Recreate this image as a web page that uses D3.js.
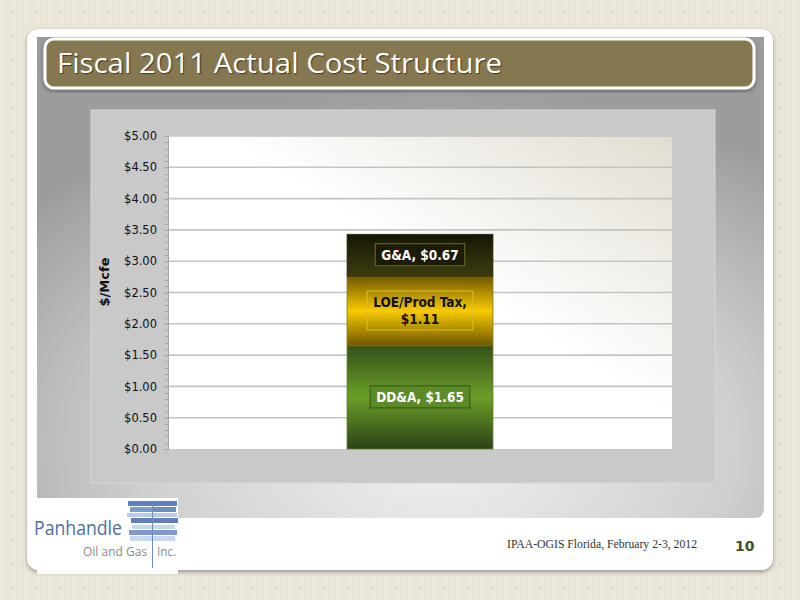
<!DOCTYPE html>
<html><head><meta charset="utf-8">
<script src="https://cdn.jsdelivr.net/npm/d3@7"></script>
<style>html,body{margin:0;padding:0;background:#e9e3d6;}svg{display:block;}</style>
</head><body>
<svg id="c" width="800" height="600"></svg>
<script>
// ---- data ----
const categories = ["Fiscal 2011"];
const seriesNames = ["DD&A", "LOE/Prod Tax", "G&A"];
const seriesValues = [1.65, 1.11, 0.67];
const labelText = ["DD&A, $1.65", "LOE/Prod Tax,|$1.11", "G&A, $0.67"];
const tickValues = [0, 0.5, 1, 1.5, 2, 2.5, 3, 3.5, 4, 4.5, 5];
const title = "Fiscal 2011 Actual Cost Structure";
const yTitle = "$/Mcfe";
const footer = "IPAA-OGIS Florida, February 2-3, 2012";
const pageNo = "10";

const svg = d3.select("#c");
const defs = svg.append("defs");

// background pattern
const pat = defs.append("pattern").attr("id","bg").attr("width",24).attr("height",24).attr("patternUnits","userSpaceOnUse");
pat.append("rect").attr("width",24).attr("height",24).attr("fill","#e9e3d6");
for (let i=0;i<24;i+=3) pat.append("rect").attr("x",i).attr("width",1).attr("height",24).attr("fill","#efeadf");
pat.append("circle").attr("cx",12).attr("cy",12).attr("r",1).attr("fill","#d9d1c0");
svg.append("rect").attr("width",800).attr("height",600).attr("fill","url(#bg)");

// shadow filter
const f = defs.append("filter").attr("id","sh").attr("x","-5%").attr("y","-5%").attr("width","110%").attr("height","115%");
f.append("feDropShadow").attr("dx",0).attr("dy",2).attr("stdDeviation",2).attr("flood-color","#000").attr("flood-opacity",0.35);

// white card
svg.append("rect").attr("x",27).attr("y",29).attr("width",746).attr("height",541).attr("rx",12)
  .attr("fill","#ffffff").attr("filter","url(#sh)");

// gray panel gradient
const rg = defs.append("radialGradient").attr("id","panel").attr("cx","0.55").attr("cy","0.85").attr("r","0.75");
rg.append("stop").attr("offset","0").attr("stop-color","#f2f2f2");
rg.append("stop").attr("offset","0.55").attr("stop-color","#cfcfcf");
rg.append("stop").attr("offset","1").attr("stop-color","#9c9c9c");
svg.append("path").attr("d","M37,37 H764 V508 Q764,518 754,518 H37 Z").attr("fill","url(#panel)");

// title bar
svg.append("rect").attr("x",45).attr("y",39).attr("width",709).attr("height",49).attr("rx",9)
  .attr("fill","#857750").attr("stroke","#ffffff").attr("stroke-width",3).attr("filter","url(#sh)");
svg.append("text").attr("x",57).attr("y",73).text(title)
  .attr("font-family","'Open Sans', sans-serif").attr("font-size",27).attr("fill","#ffffff")
  .attr("textLength",445).attr("lengthAdjust","spacingAndGlyphs")
  .style("text-shadow","1px 1px 1px rgba(0,0,0,0.5)");

// chart area
svg.append("rect").attr("x",91).attr("y",110).attr("width",624).attr("height",373)
  .attr("fill","#c9c9c9").attr("stroke","#d6d6d6").attr("stroke-width",1);

// plot
const m = {left:168, right:672, top:136, bottom:449};
const pg = defs.append("linearGradient").attr("id","plotbg").attr("x1","0").attr("y1","1").attr("x2","1").attr("y2","0");
pg.append("stop").attr("offset","0").attr("stop-color","#ffffff");
pg.append("stop").attr("offset","0.55").attr("stop-color","#ffffff");
pg.append("stop").attr("offset","1").attr("stop-color","#e2ddd2");
svg.append("rect").attr("x",m.left).attr("y",m.top).attr("width",m.right-m.left).attr("height",m.bottom-m.top).attr("fill","url(#plotbg)");

const x = d3.scaleBand().domain(categories).range([m.left,m.right]).paddingInner(0.551).paddingOuter(0.551);
const y = d3.scaleLinear().domain([0,5]).range([m.bottom,m.top]);

// gridlines
svg.append("g").selectAll("line").data(tickValues.filter(d=>d>0)).join("line")
  .attr("x1",m.left).attr("x2",m.right).attr("y1",d=>y(d)).attr("y2",d=>y(d))
  .attr("stroke","#c4c4c4").attr("stroke-width",1.6);

// minor ticks
const minor = d3.range(0,5.001,0.1);
svg.append("g").selectAll("line").data(minor).join("line")
  .attr("x1",m.left-3).attr("x2",m.left).attr("y1",d=>Math.round(y(d))+0.5).attr("y2",d=>Math.round(y(d))+0.5)
  .attr("stroke","#a8a8a8").attr("stroke-width",1);

// y axis
const yAxis = d3.axisLeft(y).tickValues(tickValues).tickFormat(d=>"$"+d3.format(".2f")(d)).tickSize(4).tickPadding(7);
const ga = svg.append("g").attr("transform",`translate(${m.left},0)`).call(yAxis);
ga.select(".domain").attr("stroke","#a8a8a8");
ga.selectAll(".tick line").attr("stroke","#a8a8a8");
ga.selectAll("text").attr("font-family","'DejaVu Sans', Verdana, sans-serif").attr("font-size",11.5).attr("fill","#111");

svg.append("text").attr("transform","translate(109,282) rotate(-90)").attr("text-anchor","middle")
  .attr("font-family","'DejaVu Sans', Verdana, sans-serif").attr("font-weight","bold").attr("font-size",13)
  .attr("fill","#111").text(yTitle);

// bar gradients
function vgrad(id, stops){
  const g = defs.append("linearGradient").attr("id",id).attr("x1",0).attr("y1",0).attr("x2",0).attr("y2",1);
  stops.forEach(s=>g.append("stop").attr("offset",s[0]).attr("stop-color",s[1]));
}
vgrad("g0",[[0,"#34501a"],[0.5,"#6b9e27"],[1,"#2a4218"]]);
vgrad("g1",[[0,"#6e5800"],[0.5,"#f8ca00"],[1,"#6e5800"]]);
vgrad("g2",[[0,"#151503"],[0.5,"#2a2a0a"],[1,"#3c3c10"]]);
const fills = ["url(#g0)","url(#g1)","url(#g2)"];
const edge = ["#5f7a1e","#8a7000","#2a2a0a"];

const stackData = [Object.fromEntries(seriesNames.map((s,i)=>[s,seriesValues[i]]))];
const stacked = d3.stack().keys(seriesNames)(stackData);
const bars = svg.append("g");
stacked.forEach((layer,i)=>{
  const d = layer[0];
  bars.append("rect").attr("x",x(categories[0])).attr("width",x.bandwidth())
    .attr("y",y(d[1])).attr("height",y(d[0])-y(d[1]))
    .attr("fill",fills[i]).attr("stroke",edge[i]).attr("stroke-width",0.8);
});

// labels
const boxFill = ["#5b8a26","rgba(0,0,0,0)","#1c1c06"];
const boxStroke = ["#2f5a12","#e0b830","#6b6a2a"];
const txtCol = ["#ffffff","#111111","#ffffff"];
stacked.forEach((layer,i)=>{
  const d = layer[0];
  const cx = x(categories[0]) + x.bandwidth()/2;
  const cy = (y(d[0])+y(d[1]))/2;
  const lines = labelText[i].split("|");
  const g = svg.append("g");
  const t = g.append("text").attr("text-anchor","middle")
    .attr("font-family","'DejaVu Sans Condensed','DejaVu Sans',sans-serif").attr("font-weight","bold").attr("font-size",13.5)
    .attr("fill",txtCol[i]);
  const lh = 17;
  lines.forEach((ln,j)=>{
    t.append("tspan").attr("x",cx).attr("y",cy + (j-(lines.length-1)/2)*lh + 4.5).text(ln);
  });
  const bb = t.node().getBBox();
  g.insert("rect","text").attr("x",bb.x-6).attr("y",bb.y-3).attr("width",bb.width+12).attr("height",bb.height+6)
    .attr("fill",boxFill[i]).attr("stroke",boxStroke[i]).attr("stroke-width",1);
});

// logo area
svg.append("rect").attr("x",37).attr("y",498).attr("width",141).attr("height",76).attr("fill","#ffffff");
const stripes = [
  [128,501,24,5,"#5f80b8"],[153,501,24,5,"#5f80b8"],
  [130,507,22,5,"#7e9bcb"],[153,507,23,5,"#6d8cc2"],
  [127,513,25,4,"#b9cbe8"],[153,513,24,4,"#b9cbe8"],
  [131,518,21,5,"#5f80b8"],[153,518,25,5,"#5f80b8"],
  [132,525,20,4,"#c9d7ee"],[153,525,22,4,"#c9d7ee"],
  [129,530,23,5,"#7e9bcb"],[153,530,24,5,"#7e9bcb"],
  [130,536,22,5,"#c9d7ee"],[153,536,22,5,"#c9d7ee"]
];
svg.append("g").selectAll("rect").data(stripes).join("rect")
  .attr("x",d=>d[0]).attr("y",d=>d[1]).attr("width",d=>d[2]).attr("height",d=>d[3]).attr("fill",d=>d[4]);
svg.append("line").attr("x1",152.5).attr("x2",152.5).attr("y1",501).attr("y2",568).attr("stroke","#6d8cc2").attr("stroke-width",1);
svg.append("text").attr("x",34).attr("y",535).text("Panhandle").attr("font-family","'Liberation Sans Narrow','Open Sans',sans-serif")
  .attr("font-size",20).attr("fill","#4f6f9f").attr("textLength",88).attr("lengthAdjust","spacingAndGlyphs");
svg.append("text").attr("x",83).attr("y",556).text("Oil and Gas").attr("font-family","'Liberation Sans Narrow','Open Sans',sans-serif")
  .attr("font-size",13).attr("fill","#8a8a8a").attr("textLength",64).attr("lengthAdjust","spacingAndGlyphs");
svg.append("text").attr("x",157).attr("y",556).text("Inc.").attr("font-family","'Liberation Sans Narrow','Open Sans',sans-serif")
  .attr("font-size",13).attr("fill","#8a8a8a").attr("textLength",19).attr("lengthAdjust","spacingAndGlyphs");

// footer
svg.append("text").attr("x",507).attr("y",548).text(footer).attr("font-family","'Liberation Serif','Times New Roman',serif")
  .attr("font-size",12).attr("fill","#333").attr("textLength",190).attr("lengthAdjust","spacingAndGlyphs");
svg.append("text").attr("x",735).attr("y",551).text(pageNo).attr("font-family","'DejaVu Sans',sans-serif")
  .attr("font-weight","bold").attr("font-size",14).attr("fill","#4e4b28");
</script>
</body></html>
